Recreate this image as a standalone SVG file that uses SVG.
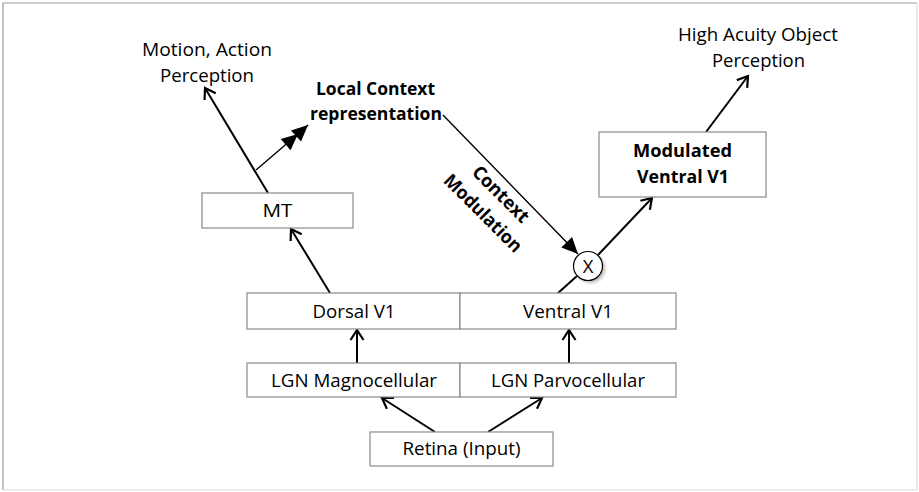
<svg xmlns="http://www.w3.org/2000/svg" width="919" height="492" viewBox="0 0 919 492">
<style>
  .box { fill: #ffffff; stroke: #8a8a8a; stroke-width: 1.2; }
  .t { font-family: "Open Sans", "Liberation Sans", sans-serif; font-size: 18.5px; fill: #000; text-anchor: middle; }
  .b { font-weight: bold; }
  .ln { stroke: #000; stroke-width: 2; fill: none; }
  .thin { stroke: #000; stroke-width: 1.4; fill: none; }
</style>
<defs>
  <marker id="open" markerUnits="userSpaceOnUse" markerWidth="22" markerHeight="22" viewBox="-13 -11 15 22" refX="0" refY="0" orient="auto">
    <path d="M -10 -6.5 L 0 0 L -10 6.5" fill="none" stroke="#000" stroke-width="2.2"/>
  </marker>
  <marker id="fill" markerUnits="userSpaceOnUse" markerWidth="20" markerHeight="20" viewBox="-14 -8 16 16" refX="0" refY="0" orient="auto">
    <path d="M -13 -6 L 0 0 L -13 6 Z" fill="#000"/>
  </marker>
  <filter id="sh" x="-50%" y="-50%" width="200%" height="200%">
    <feGaussianBlur stdDeviation="1.5"/>
  </filter>
</defs>
<rect x="0" y="0" width="919" height="492" fill="#ffffff"/>
<path d="M 3 490 L 3 3 L 917 3" fill="none" stroke="#9a9a9a" stroke-width="1.2"/>
<path d="M 917 3 L 917 490 L 3 490" fill="none" stroke="#dcdcdc" stroke-width="1.2"/>

<g id="connectors">
  <line class="ln" x1="435" y1="432" x2="382" y2="398" marker-end="url(#open)"/>
  <line class="ln" x1="488" y1="432" x2="542" y2="398" marker-end="url(#open)"/>
  <line class="ln" x1="357" y1="363" x2="357" y2="330" marker-end="url(#open)"/>
  <line class="ln" x1="569" y1="363" x2="569" y2="330" marker-end="url(#open)"/>
  <line class="ln" x1="330" y1="293" x2="291" y2="229" marker-end="url(#open)"/>
  <line class="ln" x1="268" y1="193" x2="205" y2="88" marker-end="url(#open)"/>
  <line class="thin" x1="256" y1="170" x2="298" y2="134" marker-end="url(#fill)"/>
  <line class="thin" x1="296" y1="136" x2="308" y2="125" marker-end="url(#fill)"/>
  <line class="thin" x1="443" y1="115" x2="578" y2="254" marker-end="url(#fill)"/>
  <line class="ln" x1="558" y1="293" x2="577" y2="276"/>
  <line class="ln" x1="598" y1="255" x2="652" y2="198" marker-end="url(#open)"/>
  <line class="ln" x1="706" y1="132" x2="748" y2="76" marker-end="url(#open)"/>
</g>

<g id="retina">
  <rect class="box" x="370" y="432" width="183" height="34"/>
  <text class="t" x="461.5" y="455" textLength="118" lengthAdjust="spacingAndGlyphs">Retina (Input)</text>
</g>
<g id="lgn-magno">
  <rect class="box" x="247" y="363" width="213" height="34"/>
  <text class="t" x="354" y="387" textLength="166" lengthAdjust="spacingAndGlyphs">LGN Magnocellular</text>
</g>
<g id="lgn-parvo">
  <rect class="box" x="460" y="363" width="216" height="34"/>
  <text class="t" x="568" y="387" textLength="154" lengthAdjust="spacingAndGlyphs">LGN Parvocellular</text>
</g>
<g id="dorsal-v1">
  <rect class="box" x="247" y="293" width="213" height="36"/>
  <text class="t" x="354" y="318" textLength="83" lengthAdjust="spacingAndGlyphs">Dorsal V1</text>
</g>
<g id="ventral-v1">
  <rect class="box" x="460" y="293" width="216" height="36"/>
  <text class="t" x="568" y="318" textLength="90" lengthAdjust="spacingAndGlyphs">Ventral V1</text>
</g>
<g id="mt">
  <rect class="box" x="202" y="193" width="151" height="35"/>
  <text class="t" x="277.5" y="217" textLength="30" lengthAdjust="spacingAndGlyphs">MT</text>
</g>
<g id="modulated-v1">
  <rect class="box" x="599" y="132" width="167" height="65"/>
  <text class="t b" x="682.5" y="157" textLength="99" lengthAdjust="spacingAndGlyphs">Modulated</text>
  <text class="t b" x="683" y="183" textLength="92" lengthAdjust="spacingAndGlyphs">Ventral V1</text>
</g>
<g id="multiplier">
  <circle cx="590.5" cy="268.5" r="14.5" fill="#bbbbbb" filter="url(#sh)"/>
  <circle cx="588" cy="266" r="14.5" fill="#ffffff" stroke="#000" stroke-width="1.2"/>
  <text class="t" x="588" y="272.5" font-size="17">X</text>
</g>
<g id="motion-perception">
  <text class="t" x="207" y="56" textLength="130" lengthAdjust="spacingAndGlyphs">Motion, Action</text>
  <text class="t" x="207" y="82" textLength="94" lengthAdjust="spacingAndGlyphs">Perception</text>
</g>
<g id="local-context">
  <text class="t b" x="375.5" y="95" textLength="119" lengthAdjust="spacingAndGlyphs">Local Context</text>
  <text class="t b" x="376" y="120" textLength="132" lengthAdjust="spacingAndGlyphs">representation</text>
</g>
<g id="object-perception">
  <text class="t" x="758" y="41" textLength="160" lengthAdjust="spacingAndGlyphs">High Acuity Object</text>
  <text class="t" x="758.5" y="67" textLength="93" lengthAdjust="spacingAndGlyphs">Perception</text>
</g>
<g id="context-modulation-label" transform="translate(490,205) rotate(45)">
  <text class="t b" x="0" y="-9" textLength="72" lengthAdjust="spacingAndGlyphs">Context</text>
  <text class="t b" x="1" y="17" textLength="102" lengthAdjust="spacingAndGlyphs">Modulation</text>
</g>
</svg>
